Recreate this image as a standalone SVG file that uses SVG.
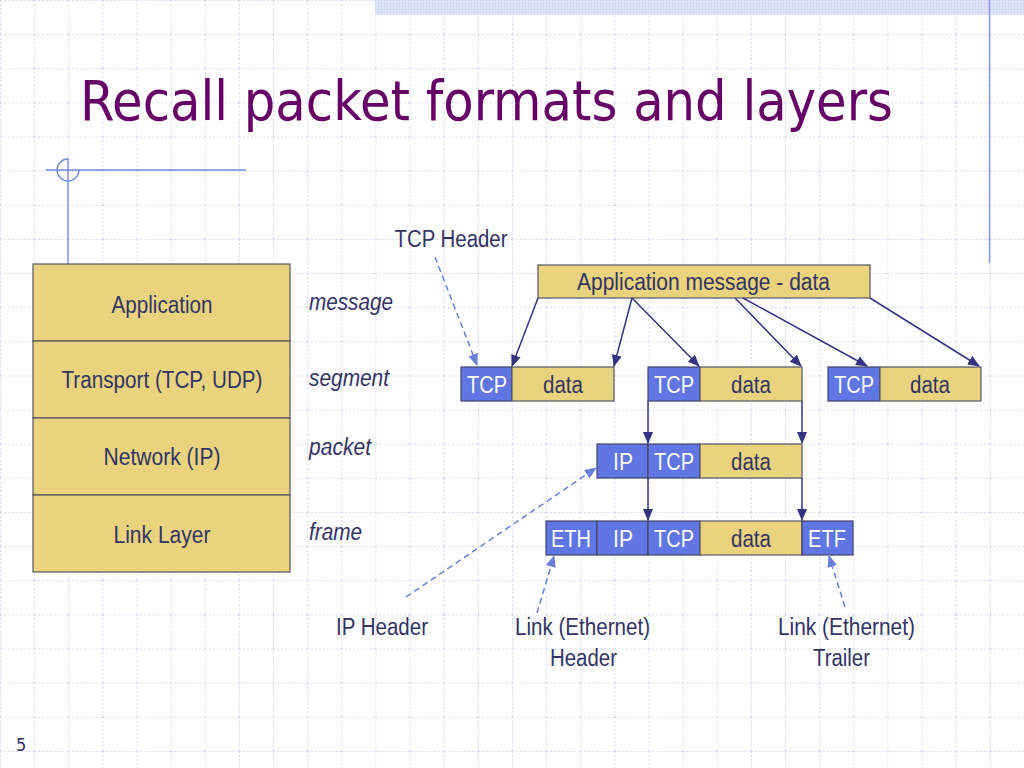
<svg xmlns="http://www.w3.org/2000/svg" width="1024" height="768" viewBox="0 0 1024 768">
<defs>
<style>
.t{font-family:"Liberation Sans",Arial,sans-serif;font-size:23px;fill:#333366;text-anchor:middle}
.w{font-family:"Liberation Sans",Arial,sans-serif;font-size:23px;fill:#ffffff;text-anchor:middle}
.i{font-family:"Liberation Sans",Arial,sans-serif;font-size:23px;fill:#333366;font-style:italic}
.gold{fill:#E9D37D;stroke:#555566;stroke-width:1.2}
.blue{fill:#5F76E4;stroke:#444466;stroke-width:1.2}
.conn{stroke:#333380;stroke-width:1.5;fill:none}
.dash{stroke:#6A7FD8;stroke-width:1.5;fill:none;stroke-dasharray:6 4}
</style>
<pattern id="grid" patternUnits="userSpaceOnUse" width="34.1333" height="34.1333">
<path d="M0.5 0V34.1333M0 0.5H34.1333" stroke="#D6DAF3" stroke-width="1" stroke-dasharray="2 2" fill="none"/>
</pattern>
<pattern id="dots" patternUnits="userSpaceOnUse" width="3" height="3">
<rect width="3" height="3" fill="#DCE2F7"/>
<rect width="1" height="1" fill="#C3CCEF"/>
</pattern>
<marker id="ah" markerUnits="userSpaceOnUse" markerWidth="12" markerHeight="10" refX="11" refY="5" orient="auto">
<path d="M0 0L12 5L0 10z" fill="#333380"/>
</marker>
<marker id="ahd" markerUnits="userSpaceOnUse" markerWidth="12" markerHeight="10" refX="11" refY="5" orient="auto">
<path d="M0 0L12 5L0 10z" fill="#6A7FD8"/>
</marker>
</defs>
<rect width="1024" height="768" fill="#ffffff"/>
<rect width="1024" height="768" fill="url(#grid)"/>
<rect x="375" y="0" width="649" height="15" fill="url(#dots)"/>
<line x1="989.5" y1="0" x2="989.5" y2="263" stroke="#8C9CE0" stroke-width="1.5"/>
<g id="crosshair" stroke="#6F86DC" stroke-width="1.3" fill="none">
<line x1="46" y1="170" x2="246" y2="170"/>
<line x1="68" y1="158" x2="68" y2="264"/>
<path d="M68 159A11 11 0 0 0 68 181A11 11 0 0 0 79 170"/>
</g>
<text x="80" y="120" font-family="'DejaVu Sans Condensed','DejaVu Sans',sans-serif" font-size="56" fill="#660066" textLength="813" lengthAdjust="spacingAndGlyphs">Recall packet formats and layers</text>

<g id="layers">
<g id="layer-app"><rect class="gold" x="33" y="264" width="257" height="77"/><text class="t" x="162" y="313" textLength="101" lengthAdjust="spacingAndGlyphs">Application</text></g>
<g id="layer-transport"><rect class="gold" x="33" y="341" width="257" height="77"/><text class="t" x="162" y="388" textLength="201" lengthAdjust="spacingAndGlyphs">Transport (TCP, UDP)</text></g>
<g id="layer-network"><rect class="gold" x="33" y="418" width="257" height="77"/><text class="t" x="162" y="465" textLength="117" lengthAdjust="spacingAndGlyphs">Network (IP)</text></g>
<g id="layer-link"><rect class="gold" x="33" y="495" width="257" height="77"/><text class="t" x="162" y="543" textLength="97" lengthAdjust="spacingAndGlyphs">Link Layer</text></g>
</g>
<g id="pdu-names">
<text class="i" x="309" y="310" textLength="84" lengthAdjust="spacingAndGlyphs">message</text>
<text class="i" x="309" y="386" textLength="80" lengthAdjust="spacingAndGlyphs">segment</text>
<text class="i" x="309" y="455" textLength="62" lengthAdjust="spacingAndGlyphs">packet</text>
<text class="i" x="309" y="540" textLength="53" lengthAdjust="spacingAndGlyphs">frame</text>
</g>

<g id="app-message"><rect class="gold" x="538" y="265" width="332" height="33"/><text class="t" x="703.5" y="290" textLength="253" lengthAdjust="spacingAndGlyphs">Application message - data</text></g>

<g id="segment1"><rect class="blue" x="461" y="367" width="51" height="34"/><text class="w" x="487" y="393" textLength="40" lengthAdjust="spacingAndGlyphs">TCP</text><rect class="gold" x="512" y="367" width="102" height="34"/><text class="t" x="563" y="393" textLength="40" lengthAdjust="spacingAndGlyphs">data</text></g>
<g id="segment2"><rect class="blue" x="648" y="367" width="52" height="34"/><text class="w" x="674" y="393" textLength="40" lengthAdjust="spacingAndGlyphs">TCP</text><rect class="gold" x="700" y="367" width="102" height="34"/><text class="t" x="751" y="393" textLength="40" lengthAdjust="spacingAndGlyphs">data</text></g>
<g id="segment3"><rect class="blue" x="828" y="367" width="52" height="34"/><text class="w" x="854" y="393" textLength="40" lengthAdjust="spacingAndGlyphs">TCP</text><rect class="gold" x="880" y="367" width="101" height="34"/><text class="t" x="930" y="393" textLength="40" lengthAdjust="spacingAndGlyphs">data</text></g>

<g id="packet"><rect class="blue" x="597" y="444" width="51" height="34"/><text class="w" x="623" y="470" textLength="20" lengthAdjust="spacingAndGlyphs">IP</text><rect class="blue" x="648" y="444" width="52" height="34"/><text class="w" x="674" y="470" textLength="40" lengthAdjust="spacingAndGlyphs">TCP</text><rect class="gold" x="700" y="444" width="102" height="34"/><text class="t" x="751" y="470" textLength="40" lengthAdjust="spacingAndGlyphs">data</text></g>

<g id="frame"><rect class="blue" x="546" y="521" width="51" height="34"/><text class="w" x="571" y="547" textLength="40" lengthAdjust="spacingAndGlyphs">ETH</text><rect class="blue" x="597" y="521" width="51" height="34"/><text class="w" x="623" y="547" textLength="20" lengthAdjust="spacingAndGlyphs">IP</text><rect class="blue" x="648" y="521" width="52" height="34"/><text class="w" x="674" y="547" textLength="40" lengthAdjust="spacingAndGlyphs">TCP</text><rect class="gold" x="700" y="521" width="102" height="34"/><text class="t" x="751" y="547" textLength="40" lengthAdjust="spacingAndGlyphs">data</text><rect class="blue" x="802" y="521" width="51" height="34"/><text class="w" x="827" y="547" textLength="38" lengthAdjust="spacingAndGlyphs">ETF</text></g>

<g id="callouts">
<text class="t" x="451" y="247" textLength="113" lengthAdjust="spacingAndGlyphs">TCP Header</text>
<text class="t" x="382" y="635" textLength="92" lengthAdjust="spacingAndGlyphs">IP Header</text>
<text class="t" x="582.5" y="635" textLength="135" lengthAdjust="spacingAndGlyphs">Link (Ethernet)</text>
<text class="t" x="583.5" y="666" textLength="67" lengthAdjust="spacingAndGlyphs">Header</text>
<text class="t" x="846.5" y="635" textLength="137" lengthAdjust="spacingAndGlyphs">Link (Ethernet)</text>
<text class="t" x="841.5" y="666" textLength="57" lengthAdjust="spacingAndGlyphs">Trailer</text>
</g>

<g id="connectors">
<line class="conn" x1="538" y1="298" x2="512" y2="366" marker-end="url(#ah)"/>
<line class="conn" x1="632" y1="298" x2="614" y2="366" marker-end="url(#ah)"/>
<line class="conn" x1="632" y1="298" x2="699" y2="366" marker-end="url(#ah)"/>
<line class="conn" x1="735" y1="298" x2="801" y2="366" marker-end="url(#ah)"/>
<line class="conn" x1="743" y1="298" x2="867" y2="366" marker-end="url(#ah)"/>
<line class="conn" x1="870" y1="298" x2="979" y2="366" marker-end="url(#ah)"/>
<line class="conn" x1="648" y1="401" x2="648" y2="443" marker-end="url(#ah)"/>
<line class="conn" x1="802" y1="401" x2="802" y2="443" marker-end="url(#ah)"/>
<line class="conn" x1="648" y1="478" x2="648" y2="520" marker-end="url(#ah)"/>
<line class="conn" x1="802" y1="478" x2="802" y2="520" marker-end="url(#ah)"/>
<line class="dash" x1="435" y1="257" x2="477" y2="365" marker-end="url(#ahd)"/>
<line class="dash" x1="406" y1="597" x2="596" y2="468" marker-end="url(#ahd)"/>
<line class="dash" x1="537" y1="613" x2="554" y2="556" marker-end="url(#ahd)"/>
<line class="dash" x1="845" y1="607" x2="829" y2="556" marker-end="url(#ahd)"/>
</g>

<text x="16" y="751" font-family="'DejaVu Sans Condensed','DejaVu Sans',sans-serif" font-size="18" fill="#333366">5</text>
</svg>
